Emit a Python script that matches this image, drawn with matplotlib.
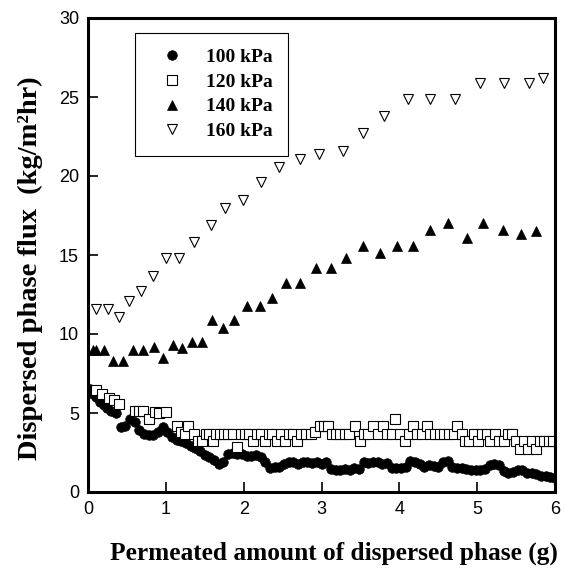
import matplotlib
matplotlib.use("Agg")
import matplotlib.pyplot as plt

# ---- data ---------------------------------------------------------------
# 100 kPa (filled circles)
x100 = [0.02, 0.06, 0.10, 0.15, 0.20, 0.25, 0.30, 0.36, 0.42, 0.48,
        0.54, 0.60, 0.66, 0.72, 0.78, 0.84, 0.90, 0.96, 1.02, 1.08,
        1.14, 1.20, 1.26, 1.32, 1.38, 1.44, 1.50, 1.56, 1.62, 1.68,
        1.74, 1.80, 1.86, 1.92, 1.98, 2.04, 2.10, 2.16, 2.22, 2.28,
        2.34, 2.40, 2.46, 2.52, 2.58, 2.64, 2.70, 2.76, 2.82, 2.88,
        2.94, 3.00, 3.06, 3.12, 3.18, 3.24, 3.30, 3.36, 3.42, 3.48,
        3.54, 3.60, 3.66, 3.72, 3.78, 3.84, 3.90, 3.96, 4.02, 4.08,
        4.14, 4.20, 4.26, 4.32, 4.38, 4.44, 4.50, 4.56, 4.62, 4.68,
        4.74, 4.80, 4.86, 4.92, 4.98, 5.04, 5.10, 5.16, 5.22, 5.28,
        5.34, 5.40, 5.46, 5.52, 5.58, 5.64, 5.70, 5.76, 5.82, 5.88,
        5.94, 6.00]
y100 = [6.5, 6.2, 6.0, 5.7, 5.5, 5.3, 5.1, 5.0, 4.1, 4.2,
        4.6, 4.4, 3.9, 3.7, 3.6, 3.6, 3.8, 4.1, 3.8, 3.5,
        3.3, 3.2, 3.1, 2.9, 2.8, 2.6, 2.35, 2.2, 2.0, 1.8,
        1.9, 2.4, 2.45, 2.4, 2.4, 2.3, 2.3, 2.35, 2.2, 1.9,
        1.5, 1.6, 1.6, 1.8, 1.9, 1.9, 1.8, 1.9, 1.9, 1.85,
        1.9, 1.8, 1.9, 1.45, 1.4, 1.4, 1.45, 1.4, 1.5, 1.45,
        1.9, 1.85, 1.9, 1.9, 1.8, 1.85, 1.5, 1.5, 1.55, 1.6,
        1.95, 1.9, 1.8, 1.6, 1.7, 1.65, 1.6, 1.9, 1.95, 1.6,
        1.5, 1.5, 1.45, 1.4, 1.4, 1.4, 1.45, 1.7, 1.75, 1.7,
        1.3, 1.2, 1.25, 1.4, 1.4, 1.2, 1.2, 1.15, 1.0, 1.0,
        0.95, 0.9]

# 120 kPa (open squares)
x120 = [0.10, 0.18, 0.27, 0.34, 0.40, 0.60, 0.66, 0.71, 0.78, 0.86,
        0.91, 1.00, 1.14, 1.19, 1.24, 1.28, 1.36, 1.41, 1.46, 1.51,
        1.56, 1.60, 1.65, 1.70, 1.75, 1.80, 1.86, 1.91, 1.96, 2.02,
        2.07, 2.12, 2.17, 2.22, 2.27, 2.32, 2.37, 2.43, 2.48, 2.53,
        2.58, 2.63, 2.68, 2.74, 2.80, 2.86, 2.92, 2.98, 3.03, 3.08,
        3.14, 3.19, 3.24, 3.30, 3.35, 3.43, 3.49, 3.54, 3.60, 3.66,
        3.72, 3.79, 3.84, 3.90, 3.95, 4.01, 4.07, 4.12, 4.17, 4.23,
        4.29, 4.35, 4.40, 4.46, 4.52, 4.58, 4.64, 4.70, 4.74, 4.80,
        4.85, 4.90, 4.96, 5.01, 5.06, 5.12, 5.17, 5.23, 5.28, 5.34,
        5.39, 5.45, 5.50, 5.55, 5.60, 5.65, 5.70, 5.76, 5.81, 5.86,
        5.92, 5.98]
y120 = [6.45, 6.2, 5.95, 5.8, 5.6, 5.1, 5.1, 5.1, 4.6, 5.05,
        5.0, 5.05, 4.2, 3.8, 3.7, 4.2, 3.7, 3.2, 3.2, 3.7,
        3.7, 3.2, 3.7, 3.7, 3.7, 3.7, 3.7, 2.85, 3.7, 3.7,
        3.7, 3.2, 3.7, 3.7, 3.2, 3.7, 3.7, 3.2, 3.7, 3.2,
        3.7, 3.7, 3.2, 3.7, 3.7, 3.7, 3.8, 4.2, 4.2, 4.2,
        3.7, 3.7, 3.7, 3.7, 3.7, 4.2, 3.2, 3.7, 3.7, 4.2,
        3.7, 4.2, 3.7, 3.7, 4.65, 3.7, 3.2, 3.7, 4.2, 3.7,
        3.7, 4.2, 3.7, 3.7, 3.7, 3.7, 3.7, 3.7, 4.2, 3.7,
        3.2, 3.2, 3.7, 3.2, 3.7, 3.7, 3.2, 3.7, 3.2, 3.2,
        3.7, 3.7, 3.2, 2.7, 3.2, 2.7, 3.2, 2.7, 3.2, 3.2,
        3.2, 3.2]

# 140 kPa (filled up-triangles)
x140 = [0.06, 0.10, 0.21, 0.32, 0.45, 0.58, 0.71, 0.85, 0.96, 1.09,
        1.21, 1.34, 1.46, 1.59, 1.73, 1.87, 2.04, 2.21, 2.37, 2.55,
        2.73, 2.93, 3.12, 3.32, 3.53, 3.75, 3.97, 4.18, 4.40, 4.62,
        4.87, 5.08, 5.33, 5.56, 5.76]
y140 = [9.0, 9.0, 9.0, 8.3, 8.3, 9.0, 9.0, 9.2, 8.5, 9.3,
        9.1, 9.5, 9.5, 10.9, 10.4, 10.9, 11.8, 11.8, 12.3, 13.2,
        13.2, 14.2, 14.2, 14.8, 15.6, 15.1, 15.6, 15.6, 16.6, 17.0,
        16.1, 17.0, 16.6, 16.3, 16.5]

# 160 kPa (open down-triangles)
x160 = [0.10, 0.26, 0.40, 0.53, 0.68, 0.83, 1.00, 1.17, 1.36, 1.58,
        1.76, 1.99, 2.22, 2.46, 2.72, 2.97, 3.27, 3.53, 3.80, 4.11,
        4.40, 4.72, 5.03, 5.34, 5.67, 5.84]
y160 = [11.6, 11.6, 11.1, 12.1, 12.7, 13.7, 14.8, 14.8, 15.8, 16.9,
        18.0, 18.5, 19.6, 20.6, 21.1, 21.4, 21.6, 22.7, 23.8, 24.9,
        24.9, 24.9, 25.9, 25.9, 25.9, 26.2]

labels = ['100 kPa', '120 kPa', '140 kPa', '160 kPa']
xticks = [0, 1, 2, 3, 4, 5, 6]
yticks = [0, 5, 10, 15, 20, 25, 30]

# ---- figure -------------------------------------------------------------
W, H = 565, 572
fig = plt.figure(figsize=(W / 100, H / 100), dpi=100)
ax = fig.add_axes([88 / W, 1 - 492 / H, 467 / W, 474 / H])

ax.plot(x100, y100, 'o', ms=6.9, mfc='black', mec='black', mew=0.5,
        label=labels[0])
ax.plot(x120, y120, 's', ms=6.6, mfc='white', mec='black', mew=0.8,
        label=labels[1])
ax.plot(x140, y140, '^', ms=7.6, mfc='black', mec='black', mew=0.5,
        label=labels[2])
ax.plot(x160, y160, 'v', ms=7.6, mfc='white', mec='black', mew=0.8,
        label=labels[3])

ax.set_xlim(0, 6)
ax.set_ylim(0, 30)
ax.set_xticks(xticks)
ax.set_yticks(yticks)
ax.tick_params(direction='in', length=7, width=1.2, pad=6.5,
               labelsize=13, top=False, right=False)
for lab in ax.get_xticklabels() + ax.get_yticklabels():
    lab.set_fontfamily('Liberation Sans')
for sp in ax.spines.values():
    sp.set_linewidth(2.2)

# axis titles (bold serif), placed in figure pixels
fig.text(334 / W, 1 - 560 / H, 'Permeated amount of dispersed phase (g)',
         ha='center', va='baseline', family='Liberation Serif',
         weight='bold', size=18.3)
fig.text(30 / W, 1 - 268 / H, 'Dispersed phase flux  (kg/m\u00b2hr)',
         rotation=90, ha='center', va='center', family='Liberation Serif',
         weight='bold', size=20.5)

leg = ax.legend(loc='upper left',
                bbox_to_anchor=((135 - 88) / 467, (492 - 33) / 474),
                borderaxespad=0, numpoints=1, fancybox=False, framealpha=1,
                edgecolor='black', handlelength=2.2, handletextpad=0.65,
                borderpad=0.8, labelspacing=0.36,
                prop={'family': 'Liberation Serif', 'weight': 'bold',
                      'size': 14})
leg.get_frame().set_linewidth(0.8)

fig.savefig('out.png', dpi=100)
